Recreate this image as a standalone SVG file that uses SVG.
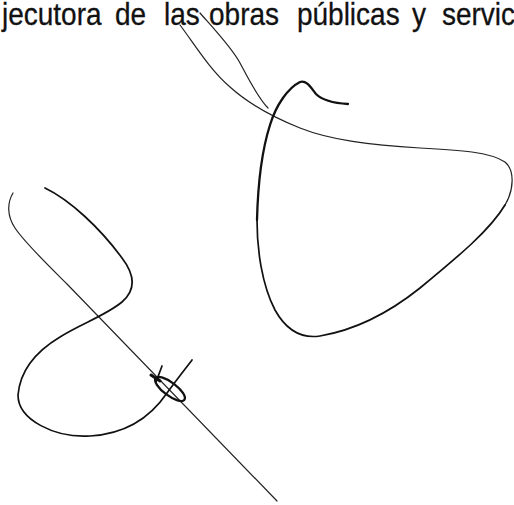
<svg xmlns="http://www.w3.org/2000/svg" width="514" height="505" viewBox="0 0 514 505">
<style>
.t{font-family:"Liberation Sans",Arial,sans-serif;font-size:32px;fill:#111;stroke:#111;stroke-width:0.3}
.s{fill:none;stroke:#111;stroke-linecap:round;stroke-linejoin:round}
.thin{stroke-width:1.2;stroke:#222}
.mid{stroke-width:1.7}
.thick{stroke-width:2.3}
</style>
<rect width="514" height="505" fill="#fff"/>
<g id="text">
<text class="t" y="25" transform="scale(0.875,1)"><tspan x="2.3">jecutora</tspan><tspan x="131.4">de</tspan><tspan x="187.4">las</tspan><tspan x="238.9">obras</tspan><tspan x="339.4">públicas</tspan><tspan x="470.9">y</tspan><tspan x="505.1">servic</tspan></text>
</g>
<g id="signature">
<path class="s thin" d="M200,13 C215,30 232,48 240,63 S258,98 268,108"/>
<path class="s thin" d="M180,25 C195,45 210,70 230,87 C250,105 275,118 300,128 C330,140 370,145 420,148 C460,150 490,152 505,162 C515,170 514,190 505,205"/>
<path class="s mid" d="M505,205 C490,230 460,255 420,288 C390,312 355,330 320,336 C300,339 285,328 275,310 C262,285 257,250 257,220"/>
<path class="s thick" d="M257,220 C258,180 262,150 270,125 C276,105 288,88 300,82 C307,80 311,88 316,94 C322,100 332,103 348,104"/>
<path class="s thin" d="M13,193 C7,203 7,216 15,228 C25,243 45,262 67,284 L277,501"/>
<path class="s mid" d="M45,188 C70,200 100,228 122,258 C135,275 136,290 122,302 C105,316 80,324 60,337 C35,352 20,372 18,395 C18,420 55,438 90,436 C125,434 150,418 167,393 C178,378 186,368 192,360"/>
<ellipse class="s thick" cx="170" cy="389" rx="18" ry="6.5" transform="rotate(37 170 389)"/>
<path class="s mid" d="M162,366 L156,382"/>
<path class="s" stroke-width="3" d="M151,375 L160,381"/>
</g>
</svg>
